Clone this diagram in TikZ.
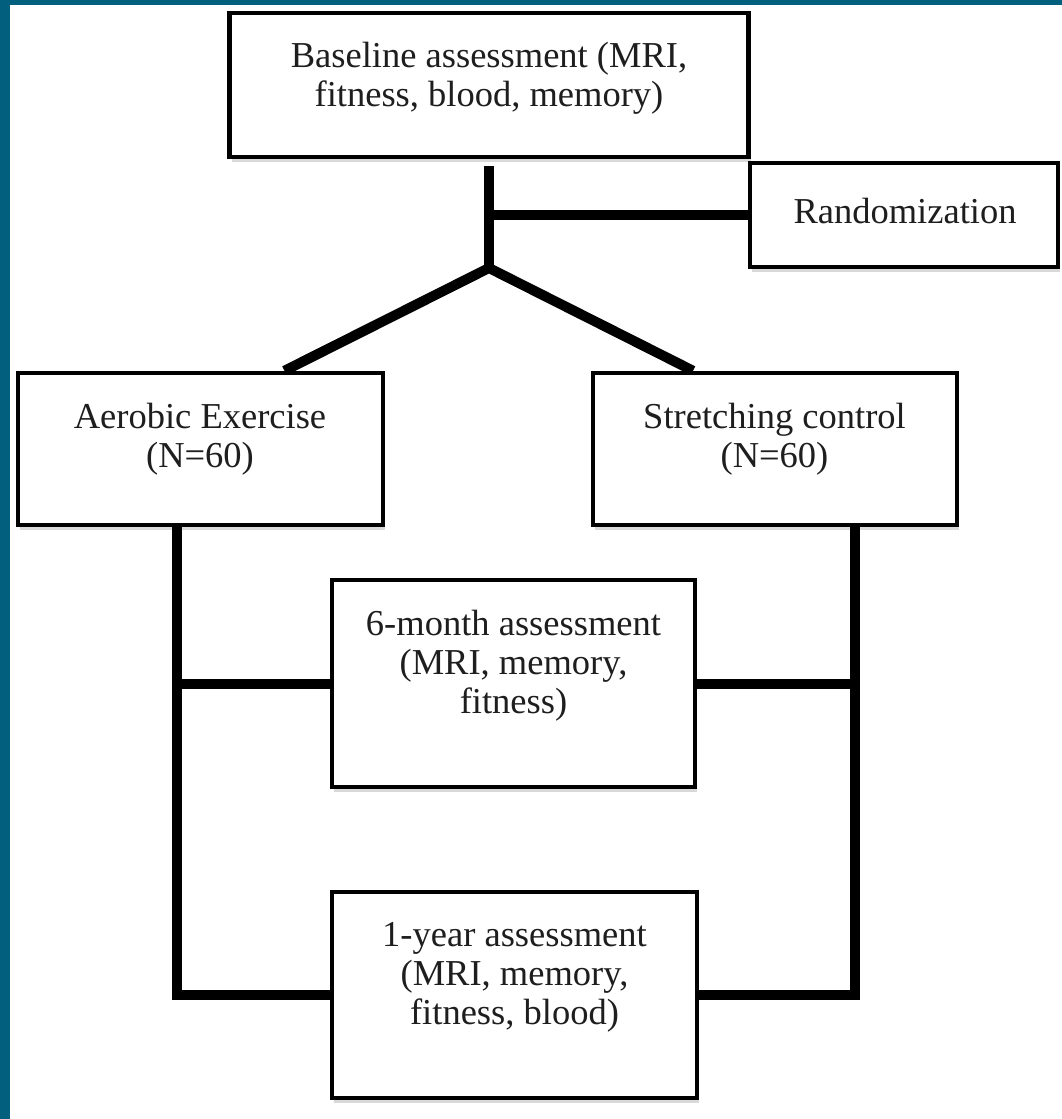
\documentclass[tikz,border=0pt]{standalone}
\usepackage{fontspec}
\setmainfont{Liberation Serif}
\usetikzlibrary{calc,shadows}
\definecolor{frameteal}{HTML}{02607E}
\definecolor{inktext}{HTML}{1E1E1E}
\pgfdeclarelayer{bg}
\pgfsetlayers{bg,main}
\begin{document}
\begin{tikzpicture}[x=1pt,y=-1pt,
  box/.style={draw=black, line width=4.5pt, fill=white, inner sep=0pt,
    drop shadow={shadow xshift=2pt, shadow yshift=-5pt, fill=black, opacity=0.15}},
  txt/.style={font=\fontsize{36.5}{39}\selectfont, align=center, text=inktext, inner sep=0pt},
  conn/.style={line width=10pt, line join=miter, draw=black}]
\useasboundingbox (0,0) rectangle (1062,1119);
% boxes
\node[box, minimum width=519pt, minimum height=144pt] (base) at (489,85) {};
\node[box, minimum width=308pt, minimum height=104pt] (rand) at (904,215) {};
\node[box, minimum width=365pt, minimum height=152pt] (aer) at (200.5,449) {};
\node[box, minimum width=364pt, minimum height=152pt] (str) at (775,449) {};
\node[box, minimum width=363pt, minimum height=207pt] (six) at (513.5,683.5) {};
\node[box, minimum width=365pt, minimum height=206pt] (one) at (514.5,995) {};
% texts
\node[txt] (basetxt) at (489,78) {Baseline assessment (MRI,\\fitness, blood, memory)};
\node[txt] (randtxt) at (905,211) {Randomization};
\node[txt] (aertxt) at (200,439.5) {Aerobic Exercise\\(N=60)};
\node[txt] (strtxt) at (774.5,439.5) {Stretching control\\(N=60)};
\node[txt] (sixtxt) at (513.5,666) {6-month assessment\\(MRI, memory,\\fitness)};
\node[txt] (onetxt) at (514.5,977.5) {1-year assessment\\(MRI, memory,\\fitness, blood)};
% connectors
\coordinate (split) at (489,268);
\coordinate (lrail) at ([xshift=-23.5pt]aer.south);
\coordinate (rrail) at ([xshift=80pt]str.south);
\begin{pgfonlayer}{bg}
\fill[white] (0,0) rectangle (1062,1119);
\fill[frameteal] (0,0) rectangle (1062,5);
\fill[frameteal] (0,0) rectangle (10,1119);
\draw[conn] ([yshift=-7pt]base.south) -- (split);
\draw[conn] (split |- rand.west) -- (rand.west);
\draw[conn] ([xshift=84pt]aer.north) -- (split) -- ([xshift=-82pt]str.north);
\draw[conn] (lrail) |- (one.west);
\draw[conn] (rrail) |- (one.east);
\draw[conn] (lrail |- six.west) -- (six.west);
\draw[conn] (six.east) -- (rrail |- six.east);
\end{pgfonlayer}
\end{tikzpicture}
\end{document}
